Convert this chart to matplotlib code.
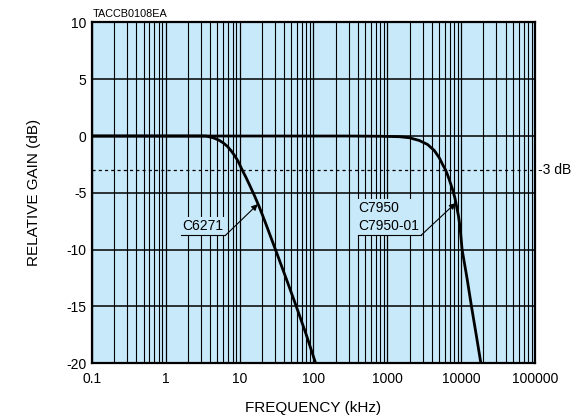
import numpy as np
import matplotlib
matplotlib.use('Agg')
import matplotlib.pyplot as plt
from matplotlib.ticker import LogLocator, FixedLocator, NullFormatter

plt.rcParams['font.family'] = ['Liberation Sans', 'DejaVu Sans']

# frequency response (kHz, dB)
c6271_freq = [0.1, 3.5, 4.36, 5.2, 5.95, 6.8, 7.72, 8.6, 9.49, 10.9, 12.2, 13.6,
              16.0, 18.2, 20.5, 23.0, 25.4, 31.4, 43, 58.5, 79, 107]
c6271_gain = [0, 0, -0.15, -0.35, -0.59, -0.9, -1.32, -1.75, -2.2, -3.03, -3.65, -4.3,
              -5.3, -6.15, -7.0, -7.85, -8.6, -10.2, -12.6, -15, -17.4, -20]

c7950_freq = [0.1, 300, 800, 1450, 1980, 2700, 3500, 4320, 5050, 5600, 6210, 6890,
              7640, 8220, 8650, 9200, 9650, 10300, 12000, 13800, 16000, 18500]
c7950_gain = [0, 0, -0.02, -0.06, -0.15, -0.39, -0.74, -1.27, -1.91, -2.5, -3.03, -3.82,
              -4.7, -5.43, -6.16, -7.04, -8.0, -10, -12.5, -15, -17.5, -20]

xticks = [0.1, 1, 10, 100, 1000, 10000, 100000]
xtick_labels = ['0.1', '1', '10', '100', '1000', '10000', '100000']
yticks = [10, 5, 0, -5, -10, -15, -20]

bg = '#c8e9f9'

fig = plt.figure(figsize=(5.8, 4.17), dpi=100)
ax = fig.add_axes([0.1586, 0.1288, 0.7638, 0.8175])
ax.set_facecolor(bg)

ax.set_xscale('log')
ax.set_xlim(0.1, 100000)
ax.set_ylim(-20, 10)

ax.xaxis.set_major_locator(FixedLocator(xticks))
ax.set_xticklabels(xtick_labels)
ax.xaxis.set_minor_locator(LogLocator(base=10, subs=np.arange(2, 10)))
ax.xaxis.set_minor_formatter(NullFormatter())
ax.set_yticks(yticks)
ax.set_yticklabels([str(v) for v in yticks])
ax.tick_params(axis='both', which='both', length=0, labelsize=10)
ax.tick_params(axis='x', pad=6)
ax.tick_params(axis='y', pad=4)

ax.grid(True, which='major', axis='x', color='black', lw=0.9)
ax.grid(True, which='minor', axis='x', color='black', lw=0.8)
ax.grid(True, which='major', axis='y', color='black', lw=1.1)
ax.set_axisbelow(True)

for s in ax.spines.values():
    s.set_linewidth(1.6)

ax.axhline(-3, color='black', lw=0.9, ls=(0, (2.5, 2.5)))

ax.plot(c6271_freq, c6271_gain, color='black', lw=2.0, solid_joinstyle='round')
ax.plot(c7950_freq, c7950_gain, color='black', lw=2.0, solid_joinstyle='round')

# labels with underline and arrow
box = dict(facecolor=bg, edgecolor='none', pad=1.5)
ax.text(1.66, -8.5, 'C6271', fontsize=10, ha='left', va='bottom', bbox=box, zorder=4)
ax.plot([1.62, 6.4], [-8.75, -8.75], color='black', lw=0.8, zorder=4)
ax.annotate('', xy=(17.6, -6.0), xytext=(6.4, -8.75),
            arrowprops=dict(arrowstyle='-|>', color='black', lw=0.8,
                            mutation_scale=9, shrinkA=0, shrinkB=0), zorder=4)

ax.text(410, -8.5, 'C7950\nC7950-01', fontsize=10, ha='left', va='bottom',
        linespacing=1.3, bbox=box, zorder=4)
ax.plot([406, 2850], [-8.75, -8.75], color='black', lw=0.8, zorder=4)
ax.annotate('', xy=(8400, -5.9), xytext=(2850, -8.75),
            arrowprops=dict(arrowstyle='-|>', color='black', lw=0.8,
                            mutation_scale=9, shrinkA=0, shrinkB=0), zorder=4)

ax.text(1.006, -3, '-3 dB', transform=ax.get_yaxis_transform(),
        fontsize=10, ha='left', va='center')
ax.text(0.002, 1.01, 'TACCB0108EA', transform=ax.transAxes,
        fontsize=7.8, ha='left', va='bottom')

ax.set_xlabel('FREQUENCY (kHz)', fontsize=11, labelpad=11)
ax.set_ylabel('RELATIVE GAIN (dB)', fontsize=11, labelpad=18)

fig.savefig('out.png', dpi=100)
